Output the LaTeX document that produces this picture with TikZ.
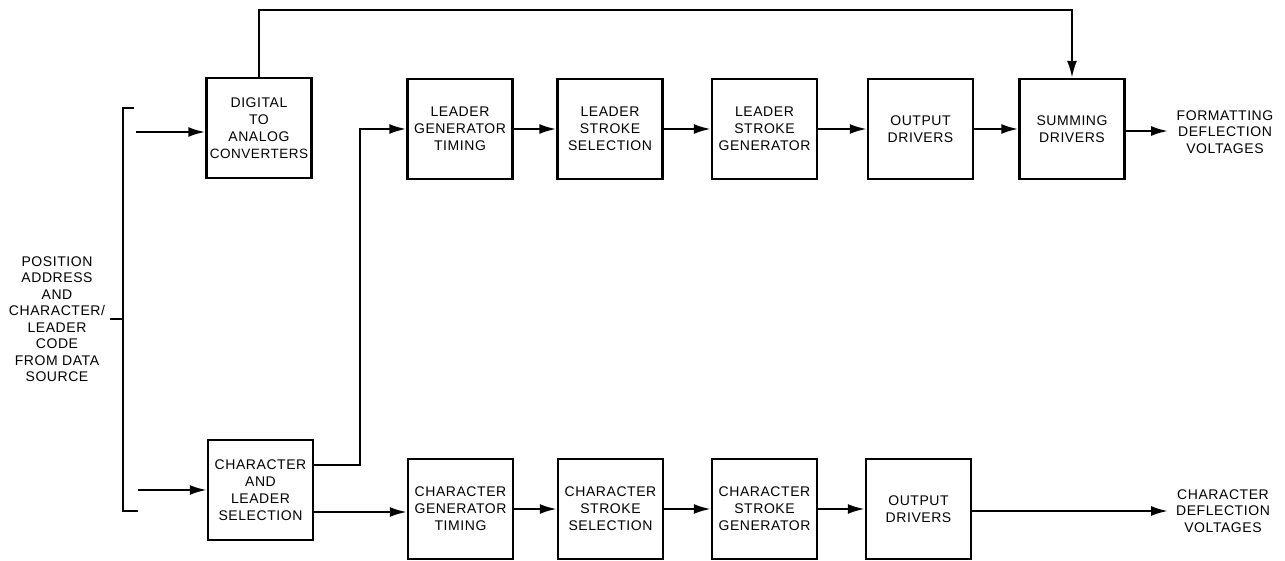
\documentclass[tikz,border=0pt]{standalone}
\usepackage{fontspec}
\setmainfont[LetterSpace=4]{Liberation Sans}
\usetikzlibrary{arrows.meta}
\begin{document}
\begin{tikzpicture}[x=1pt,y=-1pt,
  blk/.style={draw, line width=2.4pt, minimum width=105pt, minimum height=100pt,
    inner sep=0pt, align=center, font=\fontsize{14}{17}\selectfont},
  lbl/.style={align=center, inner sep=0pt, font=\fontsize{14}{16.5}\selectfont},
  con/.style={line width=2.2pt, -{Latex[length=17pt,width=10pt]}},
  ln/.style={line width=2.2pt}]
\useasboundingbox (0,0) rectangle (1285,561);
% top row
\node[blk] (dac) at (259,128) {DIGITAL\\TO\\ANALOG\\\fontsize{13.5}{17}\selectfont CONVERTERS};
\node[blk] (lgt) at (460,129) {LEADER\\GENERATOR\\TIMING};
\node[blk] (lss) at (610,129) {LEADER\\STROKE\\SELECTION};
\node[blk] (lsg) at (764.5,129) {LEADER\\STROKE\\GENERATOR};
\node[blk] (lod) at (920.5,129) {OUTPUT\\DRIVERS};
\node[blk] (sum) at (1072,129) {SUMMING\\DRIVERS};
% bottom row
\node[blk] (cls) at (260.5,490) {CHARACTER\\AND\\LEADER\\SELECTION};
\node[blk] (cgt) at (460.5,509) {CHARACTER\\GENERATOR\\TIMING};
\node[blk] (css) at (610.5,509) {CHARACTER\\STROKE\\SELECTION};
\node[blk] (csg) at (764.5,509) {CHARACTER\\STROKE\\GENERATOR};
\node[blk] (cod) at (918.5,509) {OUTPUT\\DRIVERS};
% labels
\node[lbl] (src) at (57,319) {POSITION\\ADDRESS\\AND\\CHARACTER/\\LEADER\\CODE\\FROM DATA\\SOURCE};
\node[lbl] (fmt) at (1225,132) {FORMATTING\\DEFLECTION\\VOLTAGES};
\node[lbl] (chv) at (1223,511) {CHARACTER\\DEFLECTION\\VOLTAGES};
% coordinates
\coordinate (bt) at (134,108);
\coordinate (bb) at (138,511);
\coordinate (bm) at (110,319);
\coordinate (bv) at (123,319);
\coordinate (in1) at (136,132);
\coordinate (in2) at (138,490);
\coordinate (topy) at (0,10);
\coordinate (tapx) at (360,0);
\coordinate (fmtend) at (1168,131);
\coordinate (chvend) at (1168,511);
% bracket
\draw[ln] (bt) -- (bt -| bv) -- (bb -| bv) -- (bb);
\draw[ln] (bm) -- (bv);
% inputs
\draw[con] (in1) -- (in1 -| dac.west);
\draw[con] (in2) -- (in2 -| cls.west);
% feedforward line
\draw[con] (dac.north) -- (dac.north |- topy) -- (sum.north |- topy) -- (sum.north);
% leader chain
\draw[con] ([yshift=25pt]cls.east) -| (tapx |- lgt.west) -- (lgt.west);
\draw[con] (lgt) -- (lss);
\draw[con] (lss) -- (lsg);
\draw[con] (lsg) -- (lod);
\draw[con] (lod) -- (sum);
\draw[con] (sum.east |- fmtend) -- (fmtend);
% character chain
\draw[con] ([yshift=-22pt]cls.east) -- ([yshift=-22pt]cls.east -| cgt.west);
\draw[con] (cgt) -- (css);
\draw[con] (css) -- (csg);
\draw[con] (csg) -- (cod);
\draw[con] (cod.east |- chvend) -- (chvend);
\end{tikzpicture}
\end{document}
